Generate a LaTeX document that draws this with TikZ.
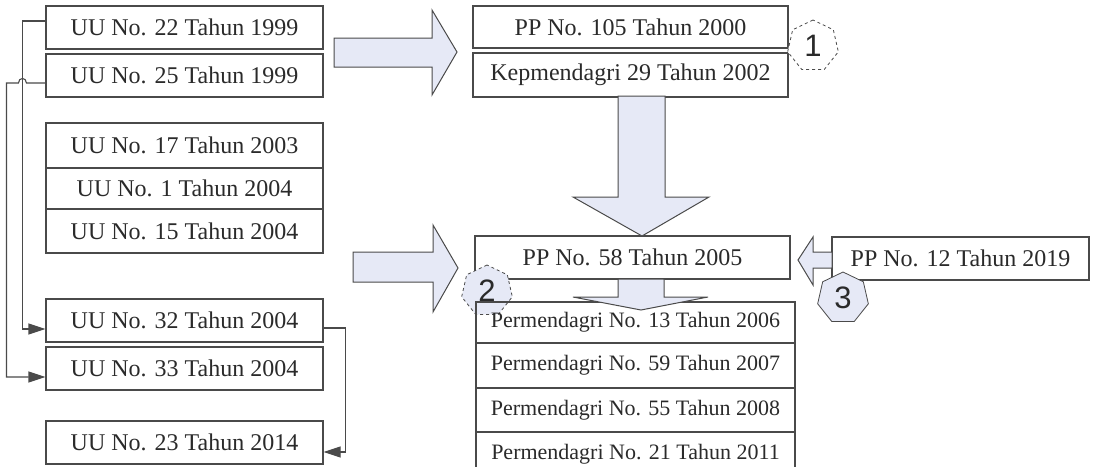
\documentclass[tikz,border=0pt]{standalone}
\usepackage{fontspec}
\setmainfont{Liberation Serif}
\newfontfamily\numfont{Liberation Sans}
\usetikzlibrary{shapes.geometric,arrows.meta,calc}
\definecolor{linec}{HTML}{4A4A4A}
\definecolor{txtc}{HTML}{2A2A2A}
\definecolor{arrfill}{HTML}{E6E9F6}
\tikzset{
  box/.style={draw=linec, line width=1.1pt, text=txtc, inner sep=0pt,
    font=\fontsize{24}{28}\selectfont, minimum width=277pt, minimum height=43pt},
  rbox/.style={box, minimum width=315pt},
  pbox/.style={draw=linec, line width=1.1pt, text=txtc, inner sep=0pt,
    font=\fontsize{22}{26}\selectfont, minimum width=319pt},
  conn/.style={draw=linec, line width=1.1pt},
  tip/.style={-{Triangle[length=17pt,width=11pt]}},
  blockarrow/.style={draw=linec, line width=1pt, fill=arrfill, line join=miter},
  hept/.style={regular polygon, regular polygon sides=7, minimum size=52pt,
    inner sep=0pt, text=txtc, font=\numfont\fontsize{31}{32}\selectfont, line width=0.8pt},
}
\begin{document}
\begin{tikzpicture}[x=1pt,y=-1pt]
\useasboundingbox (0,0) rectangle (1095,466);
\clip (0,0) rectangle (1095,466);

% left column
\node[box] (uu22) at (184.5,27.5) {UU No. 22 Tahun 1999};
\node[box] (uu25) at (184.5,75.5) {UU No. 25 Tahun 1999};
\node[box, minimum height=45pt] (uu17) at (184.5,145.5) {UU No. 17 Tahun 2003};
\node[box, minimum height=41pt] (uu1) at (184.5,188.5) {UU No. 1 Tahun 2004};
\node[box, minimum height=44pt] (uu15) at (184.5,231) {UU No. 15 Tahun 2004};
\draw[linec, line width=1.8pt] (uu17.north west) rectangle (uu15.south east);
\node[box] (uu32) at (184.5,320.5) {UU No. 32 Tahun 2004};
\node[box] (uu33) at (184.5,368.5) {UU No. 33 Tahun 2004};
\node[box] (uu23) at (184.5,442.5) {UU No. 23 Tahun 2014};

% connectors on the left
\draw[conn, tip] ([yshift=6.5pt]uu22.west) -- ++(-23,0) |- ([yshift=-8.5pt]uu32.west);
\coordinate (hop) at ([xshift=-19pt,yshift=-7.5pt]uu25.west);
\draw[conn, tip] ([yshift=-7.5pt]uu25.west) -- (hop)
  .. controls ([yshift=6pt]hop) and ([xshift=-8pt,yshift=6pt]hop) .. ([xshift=-8pt]hop)
  -- ++(-12,0) |- ([yshift=-8.5pt]uu33.west);
\draw[conn, tip] ([yshift=-7.5pt]uu32.east) -- ++(22,0) |- ([yshift=-9.5pt]uu23.east);

% right column
\node[rbox, minimum height=42pt] (pp105) at (630.5,27) {PP No. 105 Tahun 2000};
\node[rbox, minimum height=44pt] (kep) at (630.5,75) {Kepmendagri 29 Tahun 2002};
\node[rbox] (pp58) at (632.5,257.5) {PP No. 58 Tahun 2005};
\node[box, minimum width=257pt] (pp12) at (960.5,258.5) {PP No. 12 Tahun 2019};

% block arrows
\draw[blockarrow] (334,38) -- (432,38) -- (432,10) -- (457,52) -- (432,95) -- (432,67) -- (334,67) -- cycle;
\draw[blockarrow] (618,96) -- (665,96) -- (665,197) -- (709,197) -- (642,236) -- (573,197) -- (618,197) -- cycle;
\draw[blockarrow] (353,252) -- (433,252) -- (433,225) -- (458,268) -- (433,312) -- (433,282) -- (353,282) -- cycle;
\draw[blockarrow] (832,252) -- (813,252) -- (813,237) -- (798,260) -- (813,285) -- (813,268) -- (832,268) -- cycle;

% heptagon 2 (under permendagri box lines)
\node[hept, draw=linec, dashed, fill=arrfill] (n2) at (487,291) {2};

% permendagri stack
\node[pbox, minimum height=41pt] (pm13) at (635.5,322.5) {Permendagri No. 13 Tahun 2006};
\node[pbox, minimum height=45pt] (pm59) at (635.5,365.5) {Permendagri No. 59 Tahun 2007};
\node[pbox, minimum height=44pt] (pm55) at (635.5,410) {Permendagri No. 55 Tahun 2008};
\node[pbox, minimum height=44pt] (pm21) at (635.5,454) {Permendagri No. 21 Tahun 2011};

\draw[blockarrow] (618,279) -- (664,279) -- (664,297) -- (708,297) -- (641,310) -- (573,297) -- (618,297) -- cycle;

% heptagons
\node[hept, draw=linec, dashed, fill=white] (n1) at (813,46) {1};
\node[hept, draw=linec, fill=arrfill] (n3) at (843,298) {3};
\end{tikzpicture}
\end{document}
